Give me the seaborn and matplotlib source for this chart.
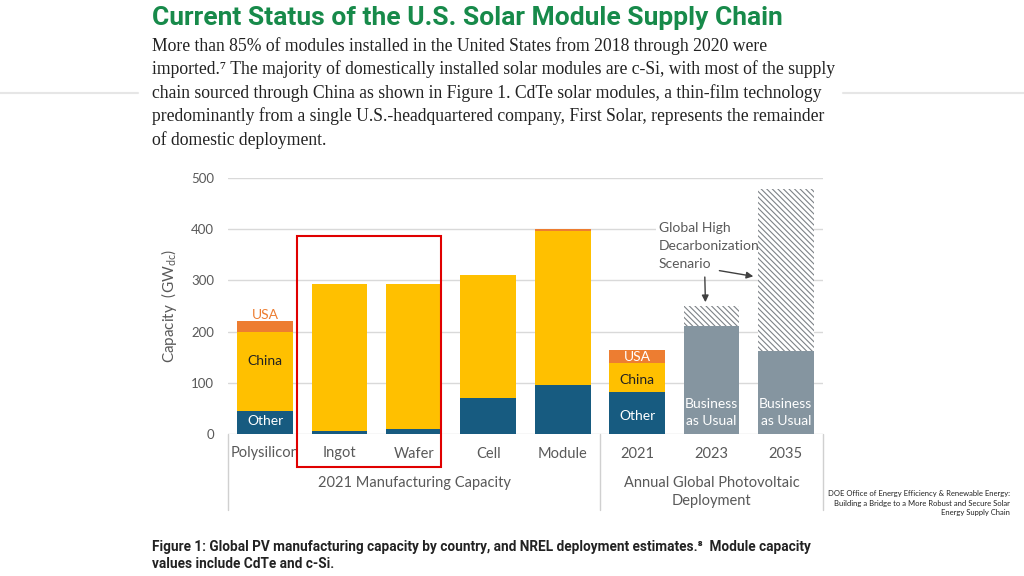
import seaborn as sns
import matplotlib.pyplot as plt
import pandas as pd
from matplotlib.patches import Rectangle

# Categories on the x axis
categories = ["Polysilicon", "Ingot", "Wafer", "Cell", "Module", "2021", "2023", "2035"]

# Stacked segment heights (GWdc)
other = [44, 5, 9, 70, 95, 83, 0, 0]
china = [156, 288, 284, 240, 302, 55, 0, 0]
usa = [20, 0, 0, 0, 3, 27, 0, 0]
business_as_usual = [0, 0, 0, 0, 0, 0, 210, 163]
high_decarb = [0, 0, 0, 0, 0, 0, 40, 315]

y_ticks = [0, 100, 200, 300, 400, 500]
group_labels = ["2021 Manufacturing Capacity", "Annual Global Photovoltaic\nDeployment"]

df = pd.DataFrame({"Category": categories, "Other": other, "China": china,
                   "USA": usa, "BAU": business_as_usual, "High": high_decarb})
df["base_china"] = df["Other"]
df["base_usa"] = df["Other"] + df["China"]
df["base_high"] = df["BAU"]

sns.set_theme(style="white")
plt.rcParams["font.family"] = ["Lato", "DejaVu Sans"]
plt.rcParams["hatch.linewidth"] = 0.8

fig = plt.figure(figsize=(10.24, 5.76), dpi=100)
ax = fig.add_axes([228 / 1024, 1 - 434 / 576, 595 / 1024, 256 / 576])

blue = "#175b80"
yellow = "#ffc000"
orange = "#ed7d31"
grey = "#8595a0"
text_grey = "#595959"

kw = dict(x="Category", order=categories, width=0.75, saturation=1, linewidth=0, ax=ax)
sns.barplot(data=df, y="Other", color=blue, **kw)
sns.barplot(data=df, y="China", bottom=df["base_china"], color=yellow, **kw)
sns.barplot(data=df, y="USA", bottom=df["base_usa"], color=orange, **kw)
sns.barplot(data=df, y="BAU", color=grey, **kw)
sns.barplot(data=df, y="High", bottom=df["base_high"], color="white",
            edgecolor="#7d8287", hatch="\\\\\\\\\\\\", **kw)

ax.set_ylim(0, 500)
ax.set_xlim(-0.5, 7.5)
ax.set_yticks(y_ticks)
ax.yaxis.grid(True, color="#d9d9d9", linewidth=1)
ax.set_axisbelow(True)
for s in ax.spines.values():
    s.set_visible(False)
ax.tick_params(axis="y", length=0, pad=10, labelsize=9.5, labelcolor=text_grey)
ax.tick_params(axis="x", length=0, pad=9, labelsize=10.5, labelcolor=text_grey)
ax.set_xlabel("")
ax.set_ylabel("Capacity  (GW$_{\\mathregular{dc}}$)", fontsize=11, color=text_grey, labelpad=9)

# group separators below the axis
for xv in [-0.5, 4.5, 7.5]:
    ax.plot([xv, xv], [0, -148], color="#d0d0d0", lw=1, clip_on=False)
ax.text(2.0, -95, group_labels[0], ha="center", va="center", fontsize=10.5, color=text_grey)
ax.text(6.0, -113, group_labels[1], ha="center", va="center", fontsize=10.5,
        color=text_grey, linespacing=1.4)

# in-bar labels
ax.text(0, 221, "USA", ha="center", va="bottom", fontsize=10, color=orange)
ax.text(0, 142, "China", ha="center", va="center", fontsize=10, color="#222222")
ax.text(0, 25, "Other", ha="center", va="center", fontsize=10, color="white")
ax.text(5, 150, "USA", ha="center", va="center", fontsize=10, color="white")
ax.text(5, 106, "China", ha="center", va="center", fontsize=10, color="#222222")
ax.text(5, 35, "Other", ha="center", va="center", fontsize=10, color="white")
for xv in [6, 7]:
    ax.text(xv, 42, "Business\nas Usual", ha="center", va="center", fontsize=10,
            color="white", linespacing=1.5)

# annotation
ax.text(5.29, 367, "Global High\nDecarbonization\nScenario", ha="left", va="center",
        fontsize=10, color=text_grey, linespacing=1.57, zorder=0.8,
        bbox=dict(boxstyle="square,pad=0.2", fc="white", ec="none"))
arrow = dict(arrowstyle="-|>", color="#404040", lw=1, mutation_scale=10)
ax.annotate("", xy=(5.92, 252), xytext=(5.91, 312), arrowprops=arrow)
ax.annotate("", xy=(6.6, 307), xytext=(6.07, 320), arrowprops=arrow)

# red box around Ingot and Wafer
ax.add_patch(Rectangle((0.43, -64), 1.93, 451, fill=False, ec="#e00000", lw=1.5,
                       clip_on=False, zorder=5))

# slide texts
fig.text(152 / 1024, 1 - 18 / 576, "Current Status of the U.S. Solar Module Supply Chain",
         ha="left", va="center", fontsize=19, fontweight="bold", color="#178a4a",
         family=["Liberation Sans Narrow", "Roboto", "DejaVu Sans"])
body = ("More than 85% of modules installed in the United States from 2018 through 2020 were\n"
        "imported.\u2077 The majority of domestically installed solar modules are c-Si, with most of the supply\n"
        "chain sourced through China as shown in Figure 1. CdTe solar modules, a thin-film technology\n"
        "predominantly from a single U.S.-headquartered company, First Solar, represents the remainder\n"
        "of domestic deployment.")
fig.text(152 / 1024, 1 - 37 / 576, body, ha="left", va="top", fontsize=12.7,
         color="#222222", linespacing=1.40, family=["Liberation Serif", "DejaVu Serif"])
caption = ("Figure 1: Global PV manufacturing capacity by country, and NREL deployment estimates.\u2078  Module capacity\n"
           "values include CdTe and c-Si.")
fig.text(152 / 1024, 1 - 540 / 576, caption, ha="left", va="top", fontsize=9.8,
         color="#222222", linespacing=1.3, fontweight="bold",
         family=["Liberation Sans Narrow", "Roboto", "DejaVu Sans"])
source = ("DOE Office of Energy Efficiency & Renewable Energy:\n"
          "Building a Bridge to a More Robust and Secure Solar\n"
          "Energy Supply Chain")
fig.text(1010 / 1024, 1 - 490 / 576, source, ha="right", va="top", fontsize=5.5,
         color="#222222", linespacing=1.45)

# decorative slide rules
fig.add_artist(plt.Line2D([0, 138 / 1024], [1 - 93 / 576] * 2, color="#e6e6e6", lw=1.5))
fig.add_artist(plt.Line2D([843 / 1024, 1], [1 - 93 / 576] * 2, color="#e6e6e6", lw=1.5))

fig.savefig("out.png", dpi=100)
